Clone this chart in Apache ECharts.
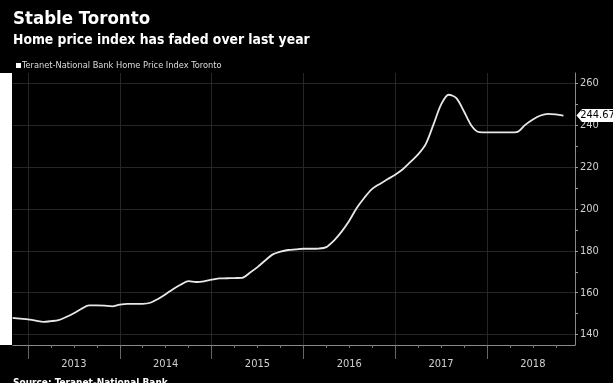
<!DOCTYPE html>
<html><head><meta charset="utf-8">
<script src="https://cdn.jsdelivr.net/npm/echarts@6/dist/echarts.min.js"></script>
<style>html,body{margin:0;padding:0;background:#000;}#c{width:613px;height:383px;}</style>
</head><body><div id="c"></div>
<script>
const months = ['2012-11','2012-12',
'2013-01','2013-02','2013-03','2013-04','2013-05','2013-06','2013-07','2013-08','2013-09','2013-10','2013-11','2013-12',
'2014-01','2014-02','2014-03','2014-04','2014-05','2014-06','2014-07','2014-08','2014-09','2014-10','2014-11','2014-12',
'2015-01','2015-02','2015-03','2015-04','2015-05','2015-06','2015-07','2015-08','2015-09','2015-10','2015-11','2015-12',
'2016-01','2016-02','2016-03','2016-04','2016-05','2016-06','2016-07','2016-08','2016-09','2016-10','2016-11','2016-12',
'2017-01','2017-02','2017-03','2017-04','2017-05','2017-06','2017-07','2017-08','2017-09','2017-10','2017-11','2017-12',
'2018-01','2018-02','2018-03','2018-04','2018-05','2018-06','2018-07','2018-08','2018-09','2018-10','2018-11'];
const values = [148.0,147.6,
147.2,146.7,146.1,146.4,146.9,148.4,150.2,152.3,153.9,153.9,153.8,153.5,
154.3,154.7,154.7,154.7,155.2,157.0,159.3,161.8,163.9,165.5,165.1,165.4,
166.2,166.8,166.9,167.0,167.1,169.5,172.2,175.4,178.3,179.6,180.4,180.7,
181.0,181.0,181.1,181.8,184.9,189.2,194.4,200.6,205.5,209.6,212.0,214.2,
216.4,219.0,222.5,226.1,231.0,240.3,249.9,254.6,253.0,246.6,239.7,236.7,
236.6,236.6,236.6,236.6,236.9,240.2,242.8,244.7,245.5,245.2,244.67];
const years = [2013,2014,2015,2016,2017,2018];
const yLabels = [140,160,180,200,220,240,260];
const yMinor = [140,150,160,170,180,190,200,210,220,230,240,250,260];
const lastLabel = '244.67';

const toYear = m => { const p = m.split('-'); return +p[0] + (+p[1]-1)/12; };
const seriesData = months.map((m,i)=>[toYear(m), values[i]]);
const yearBounds = years.concat([years[years.length-1]+1]);
const quarters = [];
years.forEach(y=>{ for(let q=0;q<4;q++) quarters.push(y+q/4); });
const yearMids = years.map(y=>y+0.5);
const xMin = 2012.837, xMax = 2018.959;
const last = seriesData[seriesData.length-1];

const FONT = 'DejaVu Sans Condensed';
const chart = echarts.init(document.getElementById('c'), null, {renderer:'canvas'});
chart.setOption({
  backgroundColor:'#000',
  animation:false,
  textStyle:{fontFamily:FONT},
  title:[
    {text:'Stable Toronto', left:8, top:5, textStyle:{color:'#fff', fontSize:18.5, fontWeight:'bold', fontFamily:FONT}},
    {text:'Home price index has faded over last year', left:8, top:28, textStyle:{color:'#fff', fontSize:13.8, fontWeight:'bold', fontFamily:FONT}},
    {text:'Source: Teranet-National Bank', left:8, top:373, textStyle:{color:'#fff', fontSize:10, fontWeight:'bold', fontFamily:FONT}}
  ],
  legend:{left:11, top:56, icon:'rect', itemWidth:5, itemHeight:5, itemGap:2,
    textStyle:{color:'#ddd', fontSize:9.2, fontFamily:FONT, padding:[0,0,0,-4]},
    data:['Teranet-National Bank Home Price Index Toronto']},
  graphic:[{type:'rect', left:0, top:73, shape:{width:12, height:272}, style:{fill:'#fff'}, silent:true}],
  grid:{left:13, right:38, top:73, bottom:38},
  xAxis:[
    {type:'value', min:xMin, max:xMax, position:'bottom',
     axisLine:{show:true, lineStyle:{color:'#8a8a8a', width:1}},
     axisTick:{show:true, customValues:yearBounds, length:14, lineStyle:{color:'#666'}},
     axisLabel:{show:true, customValues:yearMids, formatter:v=>String(Math.floor(v)), color:'#d0d0d0', fontSize:11, margin:14, fontFamily:FONT},
     splitLine:{show:true, lineStyle:{color:'#262626', width:1}}},
    {type:'value', min:xMin, max:xMax, position:'bottom', gridIndex:0,
     axisLine:{show:false},
     axisTick:{show:true, customValues:quarters, length:3, lineStyle:{color:'#777'}},
     axisLabel:{show:false}, splitLine:{show:false}}
  ],
  yAxis:[
    {type:'value', min:135, max:265, position:'right',
     axisLine:{show:true, lineStyle:{color:'#8a8a8a'}},
     axisTick:{show:true, customValues:yMinor, length:3, lineStyle:{color:'#999'}},
     axisLabel:{show:true, customValues:yLabels, color:'#d0d0d0', fontSize:11, margin:5, fontFamily:FONT},
     splitLine:{show:false}},
    {type:'value', min:135, max:265, position:'right',
     axisLine:{show:false}, axisTick:{show:false, customValues:yLabels},
     axisLabel:{show:false},
     splitLine:{show:true, lineStyle:{color:'#262626', width:1}}}
  ],
  series:[{
    name:'Teranet-National Bank Home Price Index Toronto',
    type:'line', data:seriesData, xAxisIndex:0, yAxisIndex:0,
    showSymbol:false, smooth:0.3,
    lineStyle:{color:'#e8e8e8', width:1.8},
    itemStyle:{color:'#fff'},
    markPoint:{
      silent:true,
      data:[{coord:last, value:lastLabel}],
      symbol:'path://M0,6 L6,0 L40,0 L40,12 L6,12 Z',
      symbolSize:[38,13], symbolKeepAspect:false,
      symbolOffset:[32,0],
      itemStyle:{color:'#fff'},
      label:{show:true, formatter:lastLabel, color:'#000', fontSize:11, fontFamily:FONT, offset:[2,0]}
    }
  }]
});
</script></body></html>
